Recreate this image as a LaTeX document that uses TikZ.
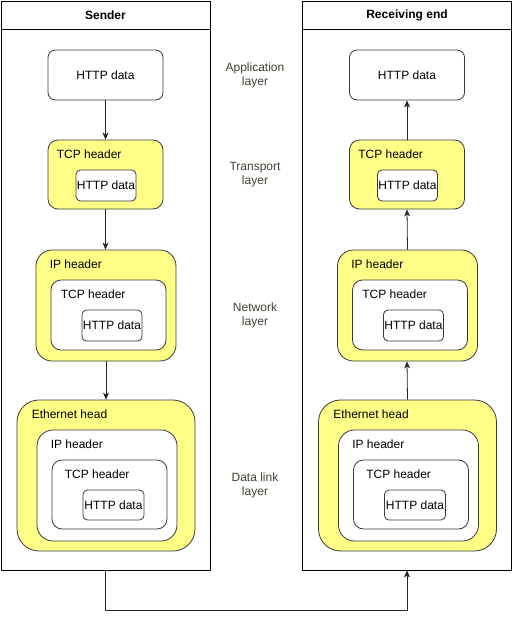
\documentclass[tikz,border=0pt]{standalone}
\usepackage{fontspec}
\setmainfont{Liberation Sans}
\usetikzlibrary{arrows.meta,calc}

\definecolor{hdryellow}{RGB}{255,255,136}
\definecolor{boxline}{RGB}{54,57,61}
\definecolor{layertext}{RGB}{64,64,48}

\begin{document}
\begin{tikzpicture}[x=1pt, y=-1pt,
    font=\fontsize{12}{14}\selectfont,
    wh/.style 2 args={minimum width=#1pt, minimum height=#2pt},
    panel/.style={draw, line width=0.8pt, wh={209}{569}, inner sep=0pt},
    title/.style={font=\fontsize{12}{14}\selectfont\bfseries},
    box/.style={draw=boxline, fill=white, line width=0.8pt, rounded corners=#1, inner sep=0pt},
    hbox/.style={box=#1, fill=hdryellow},
    hdr/.style={anchor=west, inner sep=0pt},
    layer/.style={align=center, text=layertext},
    flow/.style={draw=black!85, line width=0.8pt, -{Stealth[length=7pt,width=6pt,inset=2pt]}}]

    \useasboundingbox (0,0) rectangle (513,619);

    % Sender: data goes down the stack
    \begin{scope}
        \node[panel] (sender) at (105.5,285.5) {};
        \draw ($(sender.north west)+(0,29)$) -- ($(sender.north east)+(0,29)$);
        \node[title] (sender-title) at ($(sender.north)+(0,14.5)$) {Sender};

        \node[box=7.5pt, wh={115}{50}] (s-app) at (105.5,75) {HTTP data};  % application layer

        \node[hbox=10pt, wh={115}{69}] (s-tcp) at (105.5,174.5) {};       % transport layer
        \node[hdr] (s-tcp-lbl) at ($(s-tcp.north west)+(9,15)$) {TCP header};
        \node[box=4.5pt, wh={60}{31}] (s-tcp-http) at (106,185.5) {HTTP data};

        \node[hbox=16pt, wh={140}{111}] (s-ip) at (106,305.5) {};         % network layer
        \node[hdr] (s-ip-lbl) at ($(s-ip.north west)+(14,15)$) {IP header};
        \node[box=10pt, wh={115}{70}] (s-ip-tcp) at (108.5,315) {};
        \node[hdr] (s-ip-tcp-lbl) at ($(s-ip-tcp.north west)+(10,15)$) {TCP header};
        \node[box=4.5pt, wh={60}{31}] (s-ip-http) at (112,325.5) {HTTP data};

        \node[hbox=22pt, wh={178}{151}] (s-eth) at (106,475.5) {};        % data link layer
        \node[hdr] (s-eth-lbl) at ($(s-eth.north west)+(15,15)$) {Ethernet head};
        \node[box=16pt, wh={140}{111}] (s-eth-ip) at (107,485.5) {};
        \node[hdr] (s-eth-ip-lbl) at ($(s-eth-ip.north west)+(14,15)$) {IP header};
        \node[box=10pt, wh={115}{69}] (s-eth-tcp) at (109.5,494.5) {};
        \node[hdr] (s-eth-tcp-lbl) at ($(s-eth-tcp.north west)+(13,15)$) {TCP header};
        \node[box=4.5pt, wh={61}{30}] (s-eth-http) at (113.5,505) {HTTP data};

        \draw[flow] (s-app.south) -- (s-app.south |- s-tcp.north);
        \draw[flow] (s-tcp.south) -- (s-tcp.south |- s-ip.north);
        \draw[flow] (s-ip.south)  -- (s-ip.south  |- s-eth.north);
    \end{scope}

    % Layer names
    \node[layer] (l-app)  at (255,75)    {Application\\layer};
    \node[layer] (l-tra)  at (255,175)   {Transport\\layer};
    \node[layer] (l-net)  at (255,315)   {Network\\layer};
    \node[layer] (l-link) at (255,485.5) {Data link\\layer};

    % Receiving end: data goes up the stack
    \begin{scope}[shift={(301.5,0)}]
        \node[panel] (receiver) at (105.5,285.5) {};
        \draw ($(receiver.north west)+(0,29)$) -- ($(receiver.north east)+(0,29)$);
        \node[title] (receiver-title) at ($(receiver.north)+(0,14.5)$) {Receiving end};

        \node[box=7.5pt, wh={115}{50}] (r-app) at (105.5,75) {HTTP data};  % application layer

        \node[hbox=10pt, wh={115}{69}] (r-tcp) at (105.5,174.5) {};       % transport layer
        \node[hdr] (r-tcp-lbl) at ($(r-tcp.north west)+(9,15)$) {TCP header};
        \node[box=4.5pt, wh={60}{31}] (r-tcp-http) at (106,185.5) {HTTP data};

        \node[hbox=16pt, wh={140}{111}] (r-ip) at (106,305.5) {};         % network layer
        \node[hdr] (r-ip-lbl) at ($(r-ip.north west)+(14,15)$) {IP header};
        \node[box=10pt, wh={115}{70}] (r-ip-tcp) at (108.5,315) {};
        \node[hdr] (r-ip-tcp-lbl) at ($(r-ip-tcp.north west)+(10,15)$) {TCP header};
        \node[box=4.5pt, wh={60}{31}] (r-ip-http) at (112,325.5) {HTTP data};

        \node[hbox=22pt, wh={178}{151}] (r-eth) at (106,475.5) {};        % data link layer
        \node[hdr] (r-eth-lbl) at ($(r-eth.north west)+(15,15)$) {Ethernet head};
        \node[box=16pt, wh={140}{111}] (r-eth-ip) at (107,485.5) {};
        \node[hdr] (r-eth-ip-lbl) at ($(r-eth-ip.north west)+(14,15)$) {IP header};
        \node[box=10pt, wh={115}{69}] (r-eth-tcp) at (109.5,494.5) {};
        \node[hdr] (r-eth-tcp-lbl) at ($(r-eth-tcp.north west)+(13,15)$) {TCP header};
        \node[box=4.5pt, wh={61}{30}] (r-eth-http) at (113.5,505) {HTTP data};

        \draw[flow] (r-tcp.north) -- (r-tcp.north |- r-app.south);
        \draw[flow] (r-ip.north)  -- (r-tcp.north |- r-tcp.south);
        \draw[flow] (r-eth.north) -- (r-tcp.north |- r-ip.south);
    \end{scope}

    % Wire between the two ends
    \draw[flow] (sender.south) -- ++(0,40) -| (receiver.south);
\end{tikzpicture}
\end{document}
